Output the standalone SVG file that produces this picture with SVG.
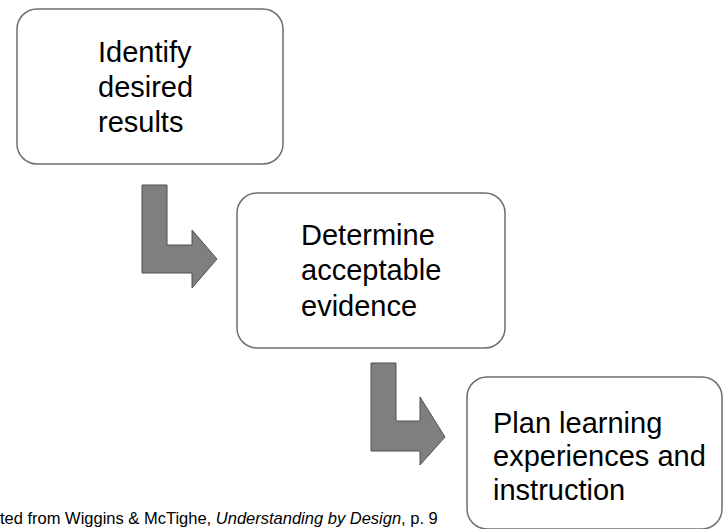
<svg xmlns="http://www.w3.org/2000/svg" width="725" height="529" viewBox="0 0 725 529">
  <style>
    .box { fill: #ffffff; stroke: #6e6e6e; stroke-width: 1.5; }
    .label { font-family: "Liberation Sans", Arial, sans-serif; font-size: 29px; fill: #000000; }
    .arrow { fill: #7f7f7f; stroke: #505050; stroke-width: 1; stroke-linejoin: miter; }
    .note { font-family: "Liberation Sans", Arial, sans-serif; font-size: 16.5px; fill: #000000; }
  </style>
  <rect width="725" height="529" fill="#ffffff"/>

  <g id="connectors">
    <path class="arrow" d="M142,185 H167 V245 H192 V230 L217,259 L192,288 V273 H142 Z"/>
    <path class="arrow" d="M371,363 H396 V421 H420 V397 L445,437 L420,465 V451 H371 Z"/>
  </g>

  <g id="node-results">
    <rect class="box" x="17" y="9" width="266" height="155" rx="20" ry="20"/>
    <text class="label" x="98" y="62">Identify</text>
    <text class="label" x="98" y="97">desired</text>
    <text class="label" x="98" y="132">results</text>
  </g>

  <g id="node-evidence">
    <rect class="box" x="237" y="193" width="268" height="155" rx="20" ry="20"/>
    <text class="label" x="301" y="245">Determine</text>
    <text class="label" x="301" y="280">acceptable</text>
    <text class="label" x="301" y="316">evidence</text>
  </g>

  <g id="node-instruction">
    <rect class="box" x="467" y="377" width="255" height="152" rx="20" ry="20"/>
    <text class="label" x="493" y="433">Plan learning</text>
    <text class="label" x="493" y="466">experiences and</text>
    <text class="label" x="493" y="500">instruction</text>
  </g>

  <text class="note" x="0" y="524">ted from Wiggins &amp; McTighe, <tspan font-style="italic">Understanding by Design</tspan>, p. 9</text>
</svg>
